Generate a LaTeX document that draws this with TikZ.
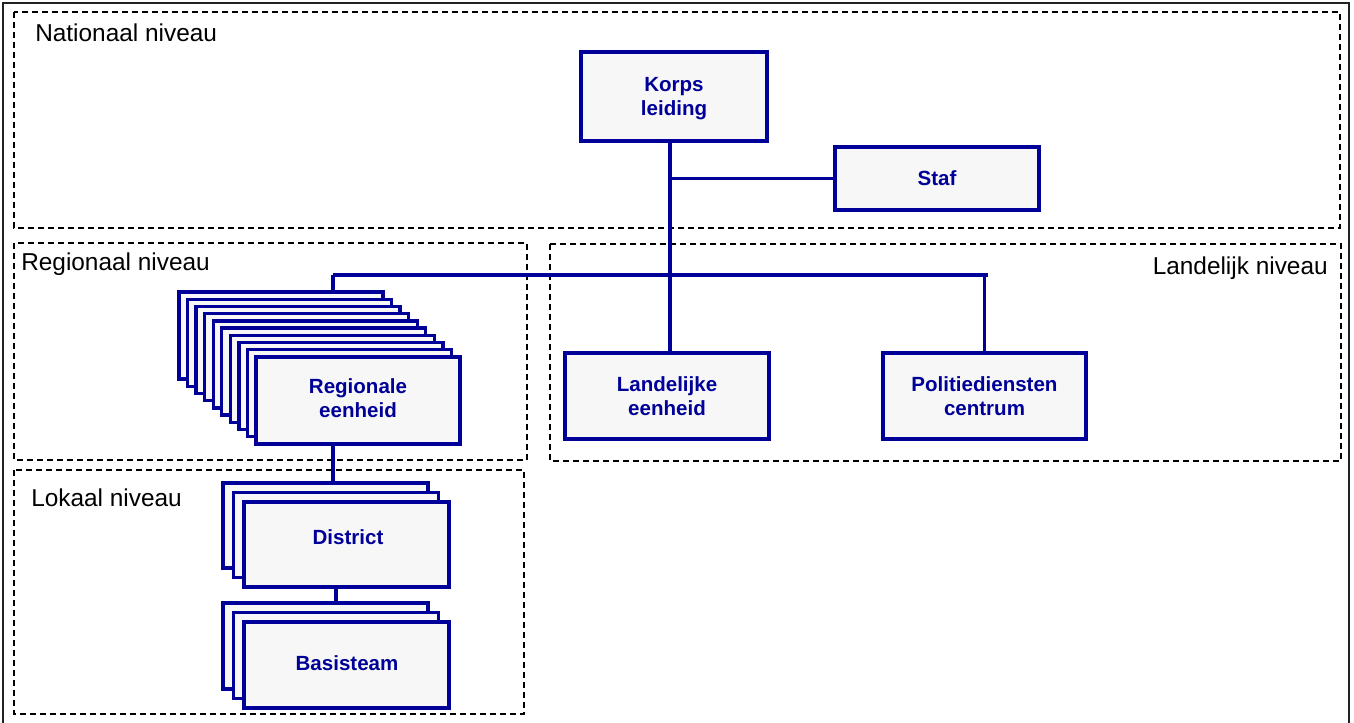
\documentclass[tikz,border=0pt]{standalone}
\usepackage{fontspec}
\setmainfont{Liberation Sans}
\definecolor{navy}{HTML}{000099}
\definecolor{boxfill}{HTML}{F7F7F7}
\definecolor{frame}{HTML}{222222}
\begin{document}
\begin{tikzpicture}[x=0.75pt,y=-0.75pt,
  unitbox/.style={draw=navy, fill=boxfill, line width=2.5pt, inner sep=0pt,
    outer sep=0pt, text=navy, align=center,
    font=\fontsize{15.4pt}{18pt}\selectfont\bfseries},
  unittext/.style={inner sep=0pt, text=navy,
    font=\fontsize{15.4pt}{18pt}\selectfont\bfseries},
  link/.style={draw=navy, line width=2.5pt},
  level/.style={draw=black, line width=1.1pt, dash pattern=on 4.5pt off 3pt},
  levellabel/.style={inner sep=0pt, font=\fontsize{18.3pt}{22pt}\selectfont}]

\useasboundingbox (0,0) rectangle (1354,722);

% outer frame (open at the bottom)
\draw[frame, line width=1.5pt] (3,725) -- (3,3) -- (1349,3) -- (1349,725);

% level areas
\draw[level] (14,12) rectangle (1340,228);
\draw[level] (14,243) rectangle (527,460);
\draw[level] (550,244) rectangle (1341,461);
\draw[level] (14,470) rectangle (524,714);

\node[levellabel, anchor=base west] (lnat) at (35,41) {Nationaal niveau};
\node[levellabel, anchor=base west] (lreg) at (21,270) {Regionaal niveau};
\node[levellabel, anchor=base east] (llan) at (1328,274) {Landelijk niveau};
\node[levellabel, anchor=base west] (llok) at (31,506) {Lokaal niveau};

% national level
\node[unitbox, minimum width=139.5pt, minimum height=66.75pt] (korps) at (674,96.5) {};
\node[unittext, align=center] (korpsT) at (674,99) {Korps\\leiding};
\node[unitbox, minimum width=153pt, minimum height=47.25pt] (staf) at (937,178.5) {Staf};

% country-wide units
\node[unitbox, minimum width=153pt, minimum height=64.5pt] (land) at (667,396) {Landelijke\\eenheid};
\node[unitbox, minimum width=152.25pt, minimum height=64.5pt] (pdc) at (984.5,396) {Politiediensten\\centrum};

% regional units (stack)
\foreach \i in {0,...,8}
  \node[unitbox, minimum width=153pt, minimum height=65.25pt] (reg\i) at ({281+\i*8.556},{335.5+\i*7.222}) {};
\node[unitbox, minimum width=153pt, minimum height=65.25pt] (reg9) at (358,400.5) {};
\node[unittext, align=center] (regT) at (358,398) {Regionale\\eenheid};

% districts (stack)
\foreach \i in {0,1}
  \node[unitbox, minimum width=153.75pt, minimum height=63.75pt] (dist\i) at ({325.5+\i*10.5},{525.5+\i*9.5}) {};
\node[unitbox, minimum width=153.75pt, minimum height=63.75pt] (dist2) at (346.5,544.5) {};
\node[unittext] (distT) at (348,537) {District};

% basic teams (stack)
\foreach \i in {0,1}
  \node[unitbox, minimum width=153.75pt, minimum height=64.5pt] (bt\i) at ({325.5+\i*10.5},{646+\i*9.5}) {};
\node[unitbox, minimum width=153.75pt, minimum height=64.5pt] (bt2) at (346.5,665) {};
\node[unittext] (btT) at (347,663) {Basisteam};

% connectors
\coordinate (trunk) at (670,178.5);
\coordinate (busL) at (333,275);
\coordinate (busR) at (988,275);
\draw[link] (korps.south -| trunk) -- (land.north -| trunk);
\draw[link] (trunk) -- (staf.west);
\draw[link] (busL) -- (busR);
\draw[link] (busL) -- (reg0.north -| busL);
\draw[link] (pdc.north) -- (pdc.north |- busR);
\draw[link] (reg9.south -| busL) -- (dist0.north -| busL);
\coordinate (dbx) at (336,0);
\draw[link] (dist2.south -| dbx) -- (bt0.north -| dbx);
\end{tikzpicture}
\end{document}
